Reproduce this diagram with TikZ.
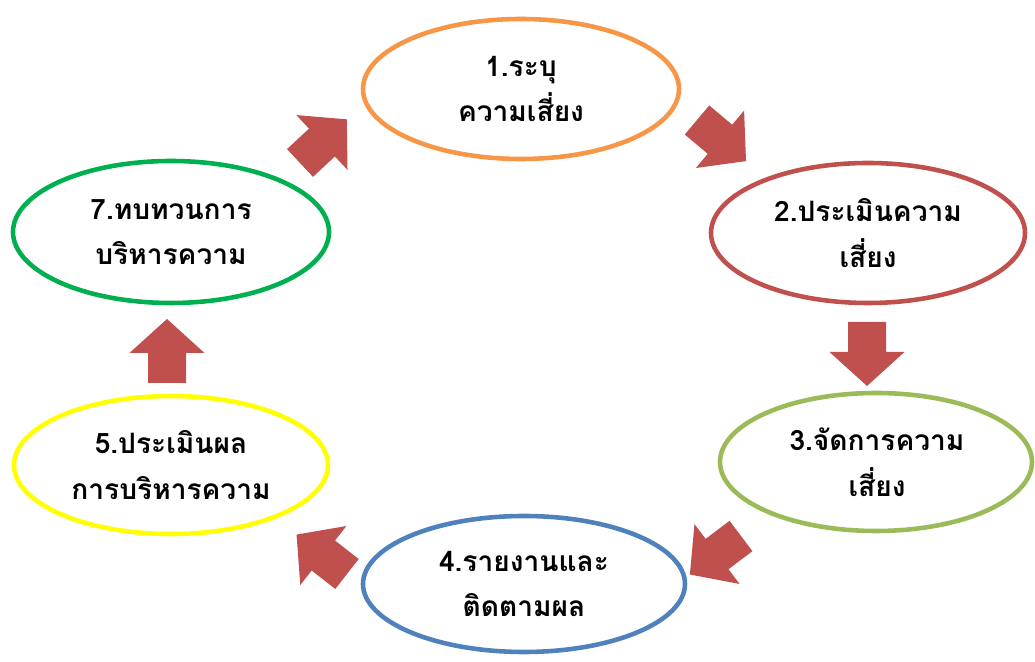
\documentclass[tikz,border=0pt]{standalone}
\usepackage{fontspec}
\newfontfamily\thaifont[Script=Thai]{Loma}
\usetikzlibrary{shapes.geometric}
\definecolor{cOrange}{HTML}{F79646}
\definecolor{cRed}{HTML}{C0504D}
\definecolor{cLime}{HTML}{9BBB59}
\definecolor{cBlue}{HTML}{4F81BD}
\definecolor{cYellow}{HTML}{FFFF00}
\definecolor{cGreen}{HTML}{00B050}
\tikzset{
  lbl/.style={font=\thaifont\bfseries\fontsize{16}{26}\selectfont, align=center, text=black},
  blockarrow/.pic={\fill[cRed] (0,-19) -- (30,-19) -- (30,-37.5) -- (64,0) -- (30,37.5) -- (30,19) -- (0,19) -- cycle;}
}
\begin{document}
\begin{tikzpicture}[x=0.02cm,y=0.02cm]
\useasboundingbox (0,0) rectangle (1035,662);
% ellipses (centre, radii) in pixel coords, y flipped
\draw[cOrange, line width=2.6pt] (521,573) ellipse [x radius=158, y radius=70];
\draw[cRed, line width=2.6pt] (868,429) ellipse [x radius=157, y radius=70];
\draw[cLime, line width=2.6pt] (876,200) ellipse [x radius=156, y radius=69];
\draw[cBlue, line width=2.6pt] (524,78) ellipse [x radius=161, y radius=68];
\draw[cYellow, line width=2.6pt] (171,197) ellipse [x radius=157, y radius=69];
\draw[cGreen, line width=2.6pt] (171,430) ellipse [x radius=158, y radius=71];
% labels
\node[lbl] (t1) at (521,573) {1.ระบุ\\ความเสี่ยง};
\node[lbl] (t2) at (868,429) {2.ประเมินความ\\เสี่ยง};
\node[lbl] (t3) at (877,200) {3.จัดการความ\\เสี่ยง};
\node[lbl] (t4) at (524,78) {4.รายงานและ\\ติดตามผล};
\node[lbl] (t5) at (171,197) {5.ประเมินผล\\การบริหารความ};
\node[lbl] (t7) at (171,430) {7.ทบทวนการ\\บริหารความ};
% block arrows
\pic[rotate=43] at (300,499) {blockarrow};
\pic[rotate=-40] at (697,542) {blockarrow};
\pic[rotate=-90] at (867,340) {blockarrow};
\pic[rotate=-143] at (741,126) {blockarrow};
\pic[rotate=142] at (347,88) {blockarrow};
\pic[rotate=90] at (167,279) {blockarrow};
\end{tikzpicture}
\end{document}
